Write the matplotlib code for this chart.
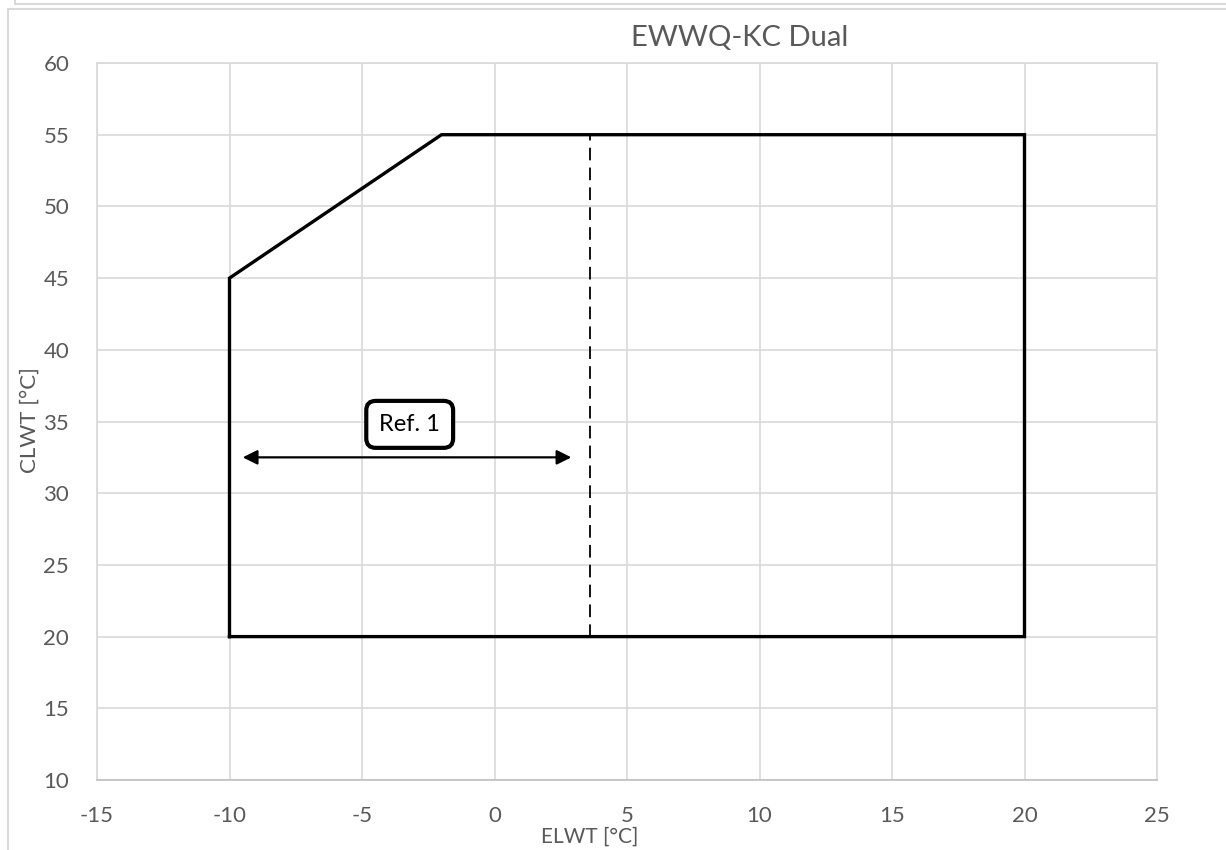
import matplotlib.pyplot as plt
from matplotlib.patches import Rectangle

# envelope data
env_x = [-10, -10, -2, 20, 20, -10]
env_y = [20, 45, 55, 55, 20, 20]
dash_x = [3.6, 3.6]
dash_y = [20, 55]
arrow_start = (-9.5, 32.5)
arrow_end = (2.9, 32.5)
ref_label = "Ref. 1"
ref_pos = (-3.2, 34.8)
x_ticks = [-15, -10, -5, 0, 5, 10, 15, 20, 25]
y_ticks = [10, 15, 20, 25, 30, 35, 40, 45, 50, 55, 60]

plt.rcParams['font.family'] = ['Lato', 'DejaVu Sans']
plt.rcParams['axes.unicode_minus'] = False
grey = '#595959'

fig = plt.figure(figsize=(12.26, 8.5), dpi=100)
ax = fig.add_axes([97 / 1226, 1 - 780 / 850, 1060 / 1226, 717 / 850])

ax.plot(env_x, env_y, color='black', lw=2.4, solid_joinstyle='miter')
ax.plot(dash_x, dash_y, color='black', lw=1.3, dashes=(7, 4))
ax.annotate('', xy=arrow_end, xytext=arrow_start,
            arrowprops=dict(arrowstyle='<|-|>', color='black', lw=1.6,
                            mutation_scale=22, shrinkA=0, shrinkB=0))
ax.text(ref_pos[0], ref_pos[1], ref_label, ha='center', va='center', fontsize=17,
        bbox=dict(boxstyle='round,pad=0.55,rounding_size=0.4', fc='white', ec='black', lw=3))

ax.set_xlim(-15, 25)
ax.set_ylim(10, 60)
ax.set_xticks(x_ticks)
ax.set_yticks(y_ticks)
ax.grid(True, color='#d9d9d9', lw=1.2)
ax.set_axisbelow(True)
for s in ['top', 'right', 'left']:
    ax.spines[s].set_color('#d9d9d9')
    ax.spines[s].set_linewidth(1.2)
ax.spines['bottom'].set_color('#bfbfbf')
ax.spines['bottom'].set_linewidth(1.2)
ax.tick_params(length=0, labelsize=16, labelcolor=grey)
ax.tick_params(axis='y', pad=20)
ax.tick_params(axis='x', pad=19)

fig.text(740 / 1226, 1 - 38 / 850, 'EWWQ-KC Dual', ha='center', va='center', fontsize=21, color=grey)
fig.text(590 / 1226, 1 - 837 / 850, 'ELWT [°C]', ha='center', va='center', fontsize=15, color=grey)
fig.text(30 / 1226, 1 - 420 / 850, 'CLWT [°C]', ha='center', va='center', fontsize=16, color=grey, rotation=90)

# outer chart frames
fig.add_artist(Rectangle((8 / 1226, -0.05), 1.1, 1 - 9 / 850 + 0.05, transform=fig.transFigure,
                         fill=False, ec='#d9d9d9', lw=1.5))
fig.add_artist(plt.Line2D([15 / 1226, 1], [1 - 4 / 850, 1 - 4 / 850], transform=fig.transFigure,
                          color='#d9d9d9', lw=1.5))
fig.add_artist(plt.Line2D([15 / 1226, 15 / 1226], [1 - 4 / 850, 1], transform=fig.transFigure,
                          color='#d9d9d9', lw=1.5))

fig.savefig('out.png', dpi=100)
